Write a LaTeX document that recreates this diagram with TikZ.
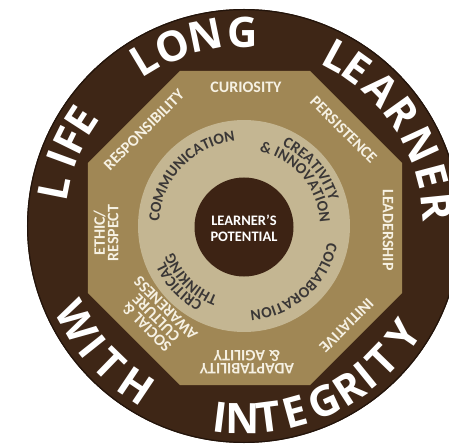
\documentclass[tikz,border=0pt]{standalone}
\usepackage{fontspec}
\setmainfont{Carlito}
\newfontfamily\bigfont{Open Sans}
\usetikzlibrary{decorations.text}
\definecolor{outerbrown}{HTML}{3E2616}
\definecolor{edgebrown}{HTML}{22140B}
\definecolor{octtan}{HTML}{A08755}
\definecolor{ringtan}{HTML}{C4B692}
\definecolor{centerbrown}{HTML}{3D2314}
\definecolor{cream}{HTML}{F6F1E3}
\definecolor{ringtext}{HTML}{3A3736}
\newcommand\rgfont{\bfseries\fontsize{15.5}{15.5}\selectfont}
\tikzset{
  bigletter/.style={text=white, font=\bigfont\bfseries\fontsize{42}{42}\selectfont, inner sep=0pt, anchor=center},
  octlabel/.style={text=cream, font=\bfseries\fontsize{16}{13.5}\selectfont, inner sep=0pt, align=center},
  centerlabel/.style={text=white, font=\bfseries\fontsize{14.5}{16}\selectfont, inner sep=0pt, align=center},
  ringlabel/.style={decorate, decoration={text along path, text align=center, text color=ringtext, text={#1}}},
}
\begin{document}
\begin{tikzpicture}[x=1pt,y=1pt]
\useasboundingbox (-244,-218) rectangle (205,226);
\clip (-244,-218) rectangle (205,226);
% outer disc
\fill[outerbrown] (0,0) circle[radius=217];
\draw[edgebrown, line width=1.2pt] (0,0) circle[radius=216.4];
% octagon
\begin{scope}[shift={(1,-2)}]
\fill[octtan] (22.5:170) -- (67.5:170) -- (112.5:170) -- (157.5:170) -- (202.5:170) -- (247.5:170) -- (292.5:170) -- (337.5:170) -- cycle;
\end{scope}
% light ring
\fill[ringtan] (0,0) circle[radius=106];
% centre disc
\fill[centerbrown] (0,-1) circle[radius=49.5];
\node[centerlabel] (centre) at (0,-2) {LEARNER’S\\POTENTIAL};
% outer words, top
\foreach \t/\a [count=\i] in {L/168.8, I/159.8, F/153.7, E/147.1, L/121, O/111.8, N/101.5, G/90.3, L/61.4, E/54.3, A/44.8, R/35.6, N/24.7, E/14.8, R/5.7}
  \node[bigletter, rotate=\a-90] (top\i) at (\a:194) {\t};
% outer words, bottom
\foreach \t/\a [count=\i] in {W/209.8, I/218.5, T/225.8, H/236.1, I/263, N/269.6, T/277.3, E/285.4, G/294.5, R/302.8, I/309.1, T/315.9, Y/325.6}
  \node[bigletter, rotate=\a+90] (bot\i) at (\a:193) {\t};
% octagon labels
\node[octlabel] (curiosity) at (2,139) {CURIOSITY};
\node[octlabel, rotate=-45] (persistence) at (99.5,96) {PERSISTENCE};
\node[octlabel, rotate=-90] (leadership) at (144,-4) {LEADERSHIP};
\node[octlabel, rotate=-135] (initiative) at (102.5,-99.5) {INITIATIVE};
\node[octlabel, rotate=180] (adaptability) at (3,-136) {ADAPTABILITY\\\& AGILITY};
\node[octlabel, rotate=135] (social) at (-88,-92) {SOCIAL \&\\CULTURE\\AWARENESS};
\node[octlabel, rotate=90] (ethic) at (-138,-7) {ETHIC/\\RESPECT};
\node[octlabel, rotate=45] (responsibility) at (-100,96) {RESPONSIBILITY};
% ring labels
\path[ringlabel={|\rgfont|COMMUNICATION}] (206.5:85) arc[start angle=206.5, end angle=66.5, radius=85];
\path[ringlabel={|\rgfont|CREATIVITY}] (110.6:89) arc[start angle=110.6, end angle=-29.4, radius=89];
\path[ringlabel={|\rgfont|{\&} INNOVATION}] (110.5:76) arc[start angle=110.5, end angle=-29.5, radius=76];
\path[ringlabel={|\rgfont|COLLABORATION}] (21.5:85) arc[start angle=21.5, end angle=-118.5, radius=85];
\path[ringlabel={|\rgfont|CRITICAL}] (293:87) arc[start angle=293, end angle=153, radius=87];
\path[ringlabel={|\rgfont|THINKING}] (295:75) arc[start angle=295, end angle=155, radius=75];
\end{tikzpicture}
\end{document}
